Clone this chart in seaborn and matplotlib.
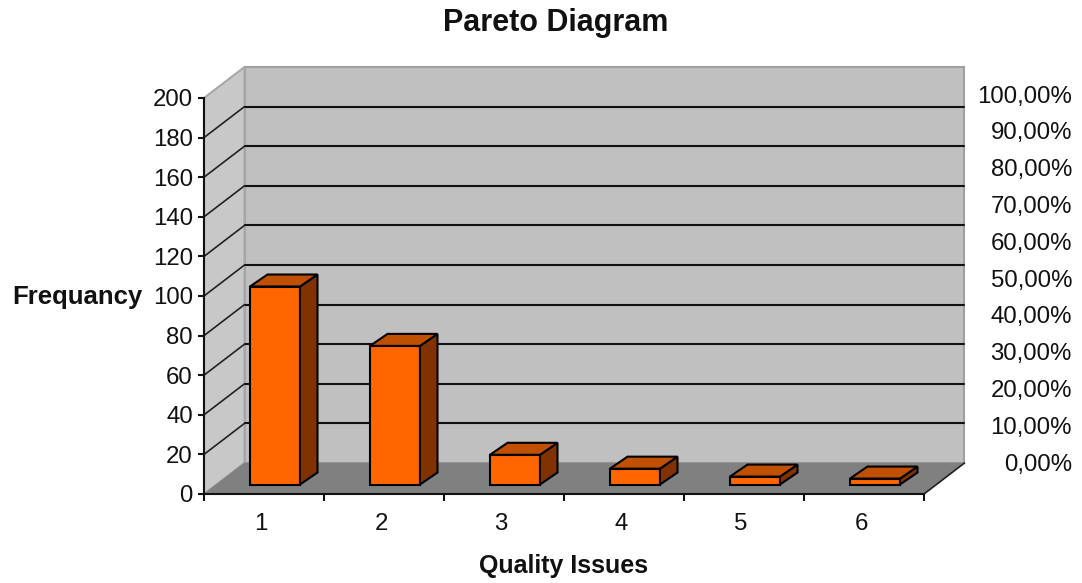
import matplotlib
matplotlib.use("Agg")
import matplotlib.pyplot as plt
import seaborn as sns
import pandas as pd
import numpy as np
from matplotlib.patches import Polygon
from matplotlib.lines import Line2D
from matplotlib.transforms import Affine2D, IdentityTransform

issues = ["1", "2", "3", "4", "5", "6"]
frequency = [100, 70, 15, 8, 4, 3]
freq_ticks = [0, 20, 40, 60, 80, 100, 120, 140, 160, 180, 200]
pct_ticks = [0, 10, 20, 30, 40, 50, 60, 70, 80, 90, 100]
pct_labels = ["0,00%", "10,00%", "20,00%", "30,00%", "40,00%", "50,00%",
              "60,00%", "70,00%", "80,00%", "90,00%", "100,00%"]

W, H = 1082, 583
sns.set_theme(style="white")
plt.rcParams["font.family"] = ["Liberation Sans", "DejaVu Sans"]
fig = plt.figure(figsize=(W / 100, H / 100), dpi=100, facecolor="white")


def box(x0, y_top, x1, y_bot):
    return [x0 / W, 1 - y_bot / H, (x1 - x0) / W, (y_bot - y_top) / H]


ax = fig.add_axes(box(204, 98, 924, 494))
ax.patch.set_visible(False)
df = pd.DataFrame({"issue": issues, "frequency": frequency})
sns.barplot(data=df, x="issue", y="frequency", ax=ax, color="#FF6600", saturation=1,
            width=50 / 120, edgecolor="black", linewidth=1.5, errorbar=None)
bars = list(ax.patches)
ax.set_xlim(-0.5, 5.5)
ax.set_ylim(0, 200)
ax.set_xlabel("")
ax.set_ylabel("")

WALL = np.array([40.5, 31.0])
BAR_OFFSET = np.array([11.0, 9.5])
BAR_DEPTH = np.array([17.5, 12.0])
identity = IdentityTransform()


def project(x, y, shift=(0, 0)):
    return ax.transData.transform((x, y)) + np.asarray(shift)


def add_poly(pts, fc, ec, lw=1.0, z=1):
    ax.add_patch(Polygon(np.array(pts), closed=True, transform=identity, facecolor=fc,
                         edgecolor=ec, linewidth=lw, zorder=z, clip_on=False))


def add_line(a, b, color="#111111", lw=1.5, z=2):
    ax.add_line(Line2D([a[0], b[0]], [a[1], b[1]], transform=identity, color=color,
                       linewidth=lw, zorder=z, clip_on=False))


x0, x1 = -0.5, 5.5
y0, y1 = 0, 200
# back wall, side wall, floor
add_poly([project(x0, y0, WALL), project(x1, y0, WALL), project(x1, y1, WALL), project(x0, y1, WALL)],
         "#C0C0C0", "#A0A0A0", 1.5)
add_poly([project(x0, y0), project(x0, y0, WALL), project(x0, y1, WALL), project(x0, y1)],
         "#C8C8C8", "#A8A8A8", 1.5)
add_poly([project(x0, y0), project(x1, y0), project(x1, y0, WALL), project(x0, y0, WALL)],
         "#808080", "#808080", 0.5)

# gridlines along the walls
for v in freq_ticks[1:-1]:
    add_line(project(x0, v, WALL), project(x1, v, WALL))
    add_line(project(x0, v), project(x0, v, WALL), color="#222222", lw=1.2)
add_line(project(x1, y0), project(x1, y0, WALL), color="#222222", lw=1.2)

# bars: seaborn draws the front faces, the depth faces follow from them
shifted_data = ax.transData + Affine2D().translate(*BAR_OFFSET)
for i, bar in enumerate(bars):
    bx, bw, bh = bar.get_x(), bar.get_width(), bar.get_height()
    bar.set_transform(shifted_data)
    bar.set_clip_on(False)
    bar.set_zorder(6 + i)
    f = BAR_OFFSET
    b = BAR_OFFSET + BAR_DEPTH
    add_poly([project(bx + bw, 0, f), project(bx + bw, 0, b), project(bx + bw, bh, b), project(bx + bw, bh, f)],
             "#803300", "black", 1.5, 6 + i)
    add_poly([project(bx, bh, f), project(bx + bw, bh, f), project(bx + bw, bh, b), project(bx, bh, b)],
             "#C05000", "black", 1.5, 6 + i)

for s in ["top", "right"]:
    ax.spines[s].set_visible(False)
for s in ["left", "bottom"]:
    ax.spines[s].set_color("#111111")
    ax.spines[s].set_linewidth(1.5)
    ax.spines[s].set_zorder(5)

ax.set_yticks(freq_ticks)
ax.set_yticklabels([str(v) for v in freq_ticks])
ax.tick_params(axis="y", left=True, length=4, width=1.5, color="#111111", pad=4,
               labelsize=17.3, labelcolor="#111111")
ax.set_xticks(range(len(issues)))
ax.set_xticklabels(issues)
ax.set_xticks(np.arange(-0.5, 6.0, 1.0), minor=True)
ax.tick_params(axis="x", which="major", bottom=False, length=0, pad=14,
               labelsize=17.3, labelcolor="#111111")
ax.tick_params(axis="x", which="minor", bottom=True, length=5, width=1.5, color="#111111")
for lab in ax.get_xticklabels():
    lab.set_transform(lab.get_transform() + Affine2D().translate(-3, 0))

# secondary percentage scale
ax2 = fig.add_axes(box(965, 94, 1072, 462))
ax2.patch.set_visible(False)
ax2.set_ylim(0, 100)
ax2.set_xticks([])
for s in ax2.spines.values():
    s.set_visible(False)
ax2.yaxis.tick_right()
ax2.set_yticks(pct_ticks)
ax2.set_yticklabels(pct_labels, ha="right")
ax2.tick_params(axis="y", right=False, length=0, pad=0, labelsize=17.3, labelcolor="#111111")

fig.text(556 / W, 1 - 23.5 / H, "Pareto Diagram", ha="center", va="center", fontsize=22,
         fontweight="bold", color="#111111")
fig.text(77 / W, 1 - 297 / H, "Frequancy", ha="center", va="center", fontsize=18.5,
         fontweight="bold", color="#111111")
fig.text(564 / W, 1 - 566 / H, "Quality Issues", ha="center", va="center", fontsize=18,
         fontweight="bold", color="#111111")

fig.savefig("out.png", dpi=100, facecolor="white")
